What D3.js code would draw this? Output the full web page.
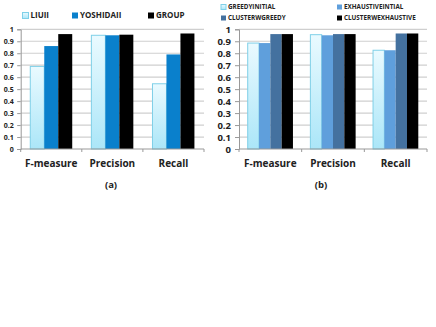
<!DOCTYPE html>
<html><head><meta charset="utf-8">
<script src="https://cdn.jsdelivr.net/npm/d3@7"></script>
<style>body{margin:0;background:#fff}svg{display:block}text{font-family:"Open Sans","DejaVu Sans",sans-serif;font-weight:bold;fill:#222}</style>
</head><body><svg id="c" width="436" height="327"></svg>
<script>
const categories = ["F-measure","Precision","Recall"];
const yTicks = [0,0.1,0.2,0.3,0.4,0.5,0.6,0.7,0.8,0.9,1];
const seriesA = ["LIUII","YOSHIDAII","GROUP"];
const valuesA = [[0.69,0.95,0.545],[0.86,0.95,0.79],[0.96,0.955,0.965]];
const seriesB = ["GREEDYINITIAL","EXHAUSTIVEINTIAL","CLUSTERWGREEDY","CLUSTERWEXHAUSTIVE"];
const valuesB = [[0.885,0.955,0.825],[0.885,0.95,0.825],[0.96,0.96,0.965],[0.96,0.96,0.965]];

const svg = d3.select("#c");
const defs = svg.append("defs");
const g = defs.append("linearGradient").attr("id","grad").attr("x1",0).attr("y1",0).attr("x2",0).attr("y2",1);
g.append("stop").attr("offset","0%").attr("stop-color","#eafaff");
g.append("stop").attr("offset","100%").attr("stop-color","#abe6f8");

function panel(opts){
  const {x0,x1,series,values,colors,pad,caption,legend} = opts;
  const top=29.3, bot=149;
  const y = d3.scaleLinear().domain([0,1]).range([bot,top]);
  const x = d3.scaleBand().domain(categories).range([x0,x1]).paddingInner(0).paddingOuter(0);
  const xs = d3.scaleBand().domain(series).range([0,x.bandwidth()]).paddingOuter(pad).paddingInner(0);
  const root = svg.append("g");
  root.append("g").selectAll("line").data(yTicks.filter(d=>d>0)).join("line")
    .attr("x1",x0).attr("x2",x1).attr("y1",d=>y(d)).attr("y2",d=>y(d))
    .attr("stroke","#cfcfcf").attr("stroke-width",1.2);
  series.forEach((s,i)=>{
    root.append("g").selectAll("rect").data(categories).join("rect")
      .attr("x",c=>x(c)+xs(s)).attr("width",xs.bandwidth())
      .attr("y",(c,j)=>y(values[i][j])).attr("height",(c,j)=>bot-y(values[i][j]))
      .attr("fill",colors[i].fill).attr("stroke",colors[i].stroke||"none").attr("stroke-width",colors[i].stroke?1:0);
  });
  const ya = root.append("g").attr("transform",`translate(${x0},0)`)
    .call(d3.axisLeft(y).tickValues(yTicks).tickFormat(d=>d===0?"0":d===1?"1":d3.format(".1f")(d)).tickSize(opts.tks).tickPadding(opts.tkp));
  ya.select(".domain").attr("stroke","#999");
  ya.selectAll(".tick line").attr("stroke","#999");
  ya.selectAll(".tick text").attr("font-size",opts.ytfs).style("font-family",'"Open Sans",sans-serif').style("font-weight","bold").attr("fill","#222");
  const xa = root.append("g").attr("transform",`translate(0,${bot})`);
  xa.append("line").attr("x1",x0).attr("x2",x1).attr("y1",0).attr("y2",0).attr("stroke","#999");
  const ticks=[x0].concat(categories.map(c=>x(c)+x.bandwidth()));
  xa.selectAll(".t").data(ticks).join("line").attr("class","t").attr("x1",d=>d).attr("x2",d=>d).attr("y1",0).attr("y2",3).attr("stroke","#999");
  xa.selectAll("text").data(categories).join("text").attr("x",c=>x(c)+x.bandwidth()/2).attr("y",18)
    .attr("text-anchor","middle").attr("font-size",opts.cfs).text(d=>d);
  root.append("text").attr("x",opts.capx).attr("y",188).attr("text-anchor","middle").attr("font-size",9.5).text(caption);
  legend.forEach((L,i)=>{
    const lg=root.append("g").attr("transform",`translate(${L.x},${L.y})`);
    const c=colors[i];
    lg.append("rect").attr("x",0).attr("y",-L.s/2).attr("width",L.s).attr("height",L.s)
      .attr("fill",c.fill).attr("stroke",c.stroke||"none");
    lg.append("text").attr("x",L.s+2).attr("y",0).attr("dy","0.35em").attr("font-size",L.fs).text(series[i]);
  });
}

const cGrad={fill:"url(#grad)",stroke:"#7fd0e8"};
panel({x0:20.7,x1:204,series:seriesA,values:valuesA,pad:0.685,caption:"(a)",capx:111,ytfs:7,tks:3.5,tkp:3.5,cfs:10,
  colors:[cGrad,{fill:"#0a80cc"},{fill:"#000"}],
  legend:[{x:22.5,y:15.5,s:6,fs:8},{x:72,y:15.5,s:6,fs:8},{x:148,y:15.5,s:6,fs:8}]});
panel({x0:239,x1:427,series:seriesB,values:valuesB,pad:0.77,caption:"(b)",capx:321,ytfs:9.5,tks:4,tkp:4,cfs:10,
  colors:[cGrad,{fill:"#5f9fdc"},{fill:"#44719f"},{fill:"#000"}],
  legend:[{x:221,y:7,s:5,fs:6.3},{x:337,y:7,s:5,fs:6.3},{x:221,y:18,s:5,fs:6.3},{x:337,y:18,s:5,fs:6.3}]});
</script></body></html>
